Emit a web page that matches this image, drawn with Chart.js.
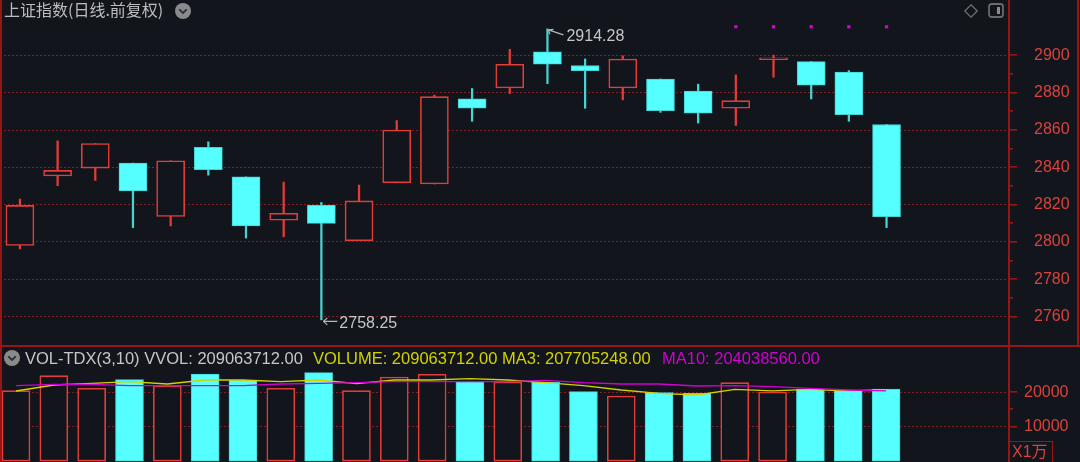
<!DOCTYPE html>
<html><head><meta charset="utf-8">
<script src="https://cdn.jsdelivr.net/npm/chart.js@4.4.1/dist/chart.umd.min.js"></script>
<style>
html,body{margin:0;padding:0;background:#12151c;width:1080px;height:462px;overflow:hidden;}
#wrap{position:relative;width:1080px;height:462px;}
canvas{position:absolute;left:0;}
#price{top:0}
#vol{top:347px}
.t{position:absolute;white-space:nowrap;font-family:"Liberation Sans",Arial,sans-serif;font-size:16.5px;line-height:18px;}
.ln{position:absolute;background:#961616;}
svg{position:absolute;overflow:visible}
</style></head><body>
<div id="wrap">
<canvas id="price" width="1080" height="345"></canvas>
<canvas id="vol" width="1080" height="115"></canvas>
<div class="ln" style="left:0;top:345px;width:1080px;height:2px"></div>
<div class="ln" style="left:0;top:0;width:1.5px;height:462px"></div>
<div class="ln" style="left:1008px;top:0;width:2px;height:462px"></div>
<div class="ln" style="left:1077px;top:0;width:1.5px;height:345px"></div>
<div class="t" style="left:4px;top:-1px;font-family:'Noto Sans CJK SC',sans-serif;font-size:16px;line-height:20px;color:#bdbdbd">上证指数(日线.前复权)</div>
<svg style="left:175px;top:3px" width="16" height="16"><circle cx="8" cy="8" r="8" fill="#8a8a8a"/><path d="M4.2 6.3 L8 10 L11.8 6.3" stroke="#2c2f36" stroke-width="1.8" fill="none"/></svg>
<svg style="left:964px;top:4px" width="14" height="14"><path d="M7 0.8 L13.2 7 L7 13.2 L0.8 7 Z" stroke="#6f6f6f" stroke-width="1.3" fill="none"/></svg>
<svg style="left:988px;top:3px" width="16" height="15"><rect x="1" y="1" width="14" height="13" rx="2.5" stroke="#6a6a6a" stroke-width="1.8" fill="none"/><rect x="9" y="4" width="3" height="7" fill="#8a8a8a"/></svg>
<svg style="left:3.5px;top:349.5px" width="16" height="16"><circle cx="8" cy="8" r="8" fill="#8a8a8a"/><path d="M4.2 6.3 L8 10 L11.8 6.3" stroke="#2c2f36" stroke-width="1.8" fill="none"/></svg>
<div class="t" id="h1" style="left:25px;top:349px;color:#c6c6c6"></div>
<div class="t" id="h2" style="left:313px;top:349px;color:#d2d200"></div>
<div class="t" id="h3" style="left:662px;top:349px;color:#d000d0"></div>
<div style="position:absolute;left:1008.5px;top:441px;width:42px;height:30px;border:1.5px solid #961616;"></div>
<div class="t" style="left:1012px;top:443px;font-size:16px;color:#d8433d;font-family:'Liberation Sans','Noto Sans CJK SC',sans-serif;">X1万</div>
</div>
<script>
// ---- data ----
const days = ['1','2','3','4','5','6','7','8','9','10','11','12','13','14','15','16','17','18','19','20','21','22','23','24'];
const open  = [2798.1,2835.4,2839.6,2842.3,2813.7,2850.7,2834.9,2811.7,2819.6,2800.7,2831.7,2831.1,2876.7,2882.6,2901.9,2894.6,2882.6,2887.4,2880.9,2871.7,2897.7,2896.7,2891.1,2863.0];
const high  = [2823.0,2854.2,2852.8,2842.3,2843.5,2853.7,2834.9,2832.1,2821.2,2830.5,2865.1,2878.8,2882.3,2903.3,2914.28,2898.1,2899.8,2887.4,2884.6,2889.6,2900.2,2896.7,2891.9,2863.0];
const low   = [2796.3,2830.2,2833.0,2807.7,2808.6,2835.8,2802.1,2802.8,2758.25,2800.7,2831.7,2831.1,2864.7,2879.6,2884.9,2871.7,2876.2,2869.5,2863.8,2862.5,2888.3,2876.7,2864.7,2807.7];
const close = [2819.6,2838.4,2852.8,2827.4,2843.5,2838.8,2808.6,2815.4,2810.0,2822.0,2860.0,2877.9,2871.7,2895.3,2895.4,2891.9,2898.1,2870.4,2869.1,2875.8,2898.8,2884.1,2868.3,2813.5];
const signalIdx = [19,20,21,22,23];
const signalLevel = 2915.4;
const priceTicks = [2760,2780,2800,2820,2840,2860,2880,2900];
// volume in 万 (x10000)
const lastVolume = 209063712, lastMA3 = 207705248, lastMA10 = 204038560;
const vol  = [20465,24826,21163,23663,21919,25320,23488,21163,25698,20465,24448,25233,23081,22994,22907,20174,18924,19884,19709,22791,20087,20959,20581,20906.3712];
const ma3  = [20378,22122,22616,23081,22413,23576,23576,23081,23576,22500,23576,23576,23953,23576,22791,21919,20669,19709,19215,20872,20400,20872,20378,20770.5248];
const ma10 = [21919,22326,22326,21919,21919,21919,21919,22413,22616,22791,23081,23081,23081,23081,23488,22791,22413,22413,21831,21919,21628,21163,20669,20403.856];
const volTicks = [10000,20000];
const volMinorTicks = [15000];

// ---- style ----
const BG='#12151c', RED='#e33d38', CYAN='#55ffff', CYAN_EDGE='#46d3d3', GRID='#861c1c', AXIS='#961616', LABEL='#d8433d';
Chart.defaults.font.family = "'Liberation Sans', Arial, sans-serif";
const up = close.map((c,i)=> c >= open[i]);
const xMin = -0.423, xMax = 26.25;

document.getElementById('h1').textContent = 'VOL-TDX(3,10) VVOL: ' + lastVolume.toFixed(2);
document.getElementById('h2').textContent = 'VOLUME: ' + lastVolume.toFixed(2) + ' MA3: ' + lastMA3.toFixed(2);
document.getElementById('h3').textContent = 'MA10: ' + lastMA10.toFixed(2);

function tickMarks(major, minor){
  return {id:'tickMarks', afterDraw(chart){
    const y = chart.scales.y, ctx = chart.ctx, x0 = chart.chartArea.right;
    ctx.save(); ctx.fillStyle = AXIS;
    major.forEach(v=>{const p=y.getPixelForValue(v); ctx.fillRect(x0, Math.round(p)-1, 8, 1.6);});
    minor.forEach(v=>{const p=y.getPixelForValue(v); ctx.fillRect(x0, Math.round(p)-1, 4, 1.6);});
    ctx.restore();
  }};
}
const priceMinor = priceTicks.slice(1).map((v,i)=>(v+priceTicks[i])/2);

const extremes = {id:'extremes', afterDatasetsDraw(chart){
  const xs=chart.scales.x, ys=chart.scales.y, ctx=chart.ctx;
  const hi = high.indexOf(Math.max(...high)), lo = low.indexOf(Math.min(...low));
  ctx.save();
  ctx.strokeStyle='#b8b8b8'; ctx.fillStyle='#c6c6c6'; ctx.lineWidth=1.2;
  ctx.font='16px "Liberation Sans"'; ctx.textBaseline='middle'; ctx.textAlign='left';
  let px=xs.getPixelForValue(hi), py=ys.getPixelForValue(high[hi]);
  ctx.beginPath();
  ctx.moveTo(px+1,py+1); ctx.lineTo(px+16,py+6);
  ctx.moveTo(px+1,py+1); ctx.lineTo(px+6,py+0.5);
  ctx.moveTo(px+1,py+1); ctx.lineTo(px+2.5,py+5.5);
  ctx.stroke();
  ctx.fillText(high[hi].toFixed(2), px+19, py+8);
  px=xs.getPixelForValue(lo); py=ys.getPixelForValue(low[lo]);
  ctx.beginPath();
  ctx.moveTo(px+2,py+1.5); ctx.lineTo(px+16,py+1.5);
  ctx.moveTo(px+2,py+1.5); ctx.lineTo(px+6,py-2);
  ctx.moveTo(px+2,py+1.5); ctx.lineTo(px+6,py+5);
  ctx.stroke();
  ctx.fillText(low[lo].toFixed(2), px+18, py+3.5);
  ctx.restore();
}};

const common = {
  responsive:false, animation:false, events:[], devicePixelRatio:1,
  layout:{padding:0},
  plugins:{legend:{display:false}, tooltip:{enabled:false}},
};
function fitRight(s){ s.width = 71; s.paddingTop = 0; s.paddingBottom = 0; }

new Chart(document.getElementById('price'), {
  type:'bar',
  data:{datasets:[
    {label:'wick', data: days.map((d,i)=>({x:i, y:[low[i], high[i]]})),
      backgroundColor: up.map(u=>u?RED:CYAN_EDGE), borderWidth:0, barThickness:1.6, grouped:false, order:2},
    {label:'body', data: days.map((d,i)=>({x:i, y:[open[i], close[i]]})),
      backgroundColor: up.map(u=>u?BG:CYAN), borderColor: up.map(u=>u?RED:CYAN_EDGE),
      borderWidth: up.map(u=>u?1.6:1), borderSkipped:false, barThickness:28, grouped:false, order:1},
    {type:'line', label:'signal', data: signalIdx.map(i=>({x:i, y:signalLevel})), showLine:false,
      pointStyle:'rect', pointRadius:2.3, backgroundColor:'#d600d6', borderWidth:0, order:0}
  ]},
  options:Object.assign({}, common, {
    scales:{
      x:{type:'linear', min:xMin, max:xMax, display:false, offset:false},
      y:{position:'right', min:2746.9, max:2927.6,
        afterFit: fitRight,
        afterBuildTicks(s){s.ticks = priceTicks.map(v=>({value:v}));},
        grid:{color:GRID, lineWidth:1, drawTicks:false},
        border:{display:false, dash:[2,2]},
        ticks:{color:LABEL, padding:25, font:{size:16}, callback:v=>String(v)}}
    }
  }),
  plugins:[tickMarks(priceTicks, priceMinor), extremes]
});

new Chart(document.getElementById('vol'), {
  type:'bar',
  data:{datasets:[
    {type:'line', label:'MA3', data: ma3.map((v,i)=>({x:i,y:v})), borderColor:'#d2d200', borderWidth:1.3, pointRadius:0, tension:0, order:1},
    {type:'line', label:'MA10', data: ma10.map((v,i)=>({x:i,y:v})), borderColor:'#d000d0', borderWidth:1.3, pointRadius:0, tension:0, order:0},
    {label:'VOLUME', data: vol.map((v,i)=>({x:i,y:v})),
      backgroundColor: up.map(u=>u?BG:CYAN), borderColor: up.map(u=>u?RED:CYAN_EDGE),
      borderWidth: up.map(u=>u?1.6:1), borderSkipped:false, barThickness:28, grouped:false, order:2}
  ]},
  options:Object.assign({}, common, {
    scales:{
      x:{type:'linear', min:xMin, max:xMax, display:false, offset:false},
      y:{position:'right', min:-262, max:33169,
        afterFit: fitRight,
        afterBuildTicks(s){s.ticks = volTicks.map(v=>({value:v}));},
        grid:{color:GRID, lineWidth:1, drawTicks:false},
        border:{display:false, dash:[2,2]},
        ticks:{color:LABEL, padding:15, font:{size:16}, callback:v=>String(v)}}
    }
  }),
  plugins:[tickMarks(volTicks, volMinorTicks)]
});
</script>
</body></html>
